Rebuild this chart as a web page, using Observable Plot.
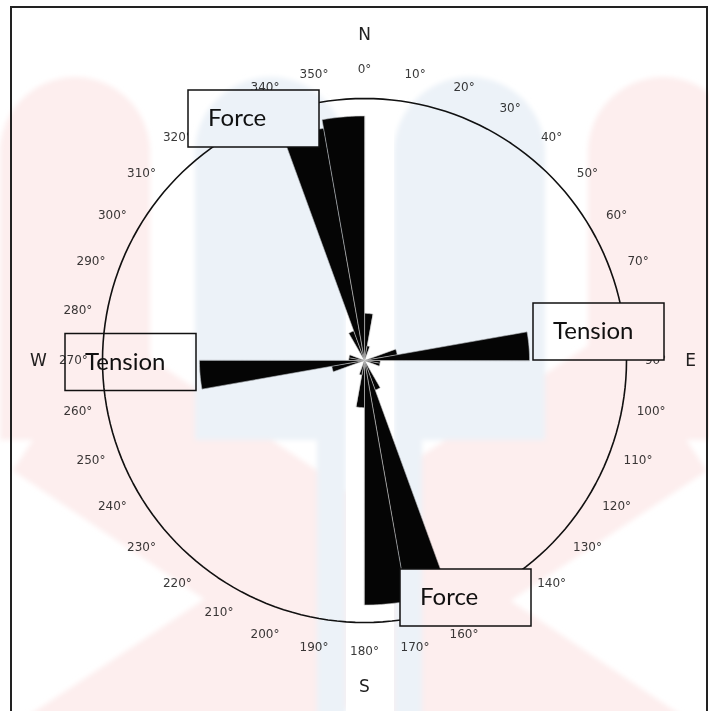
<!DOCTYPE html>
<html>
<head>
<meta charset="utf-8">
<script src="https://cdn.jsdelivr.net/npm/d3@7"></script>
<script src="https://cdn.jsdelivr.net/npm/@observablehq/plot@0.6"></script>
<style>
  body { margin: 0; background: #fff; }
  #wrap { position: relative; width: 709px; height: 711px; overflow: hidden; background: #fff; }
  #wrap > svg, #wrap > div { position: absolute; left: 0; top: 0; }
  #frame { box-sizing: border-box; left: 10px !important; top: 6px !important; width: 698px; height: 720px;
           border-left: 2px solid #222; border-top: 2px solid #222; border-right: 2px solid #222; }
</style>
</head>
<body>
<div id="wrap"></div>
<script>
// ---- data: rose diagram, 10° bins (start angle, clockwise from North) ----
const binStarts = [0,10,20,30,40,50,60,70,80,90,100,110,120,130,140,150,160,170,
                   180,190,200,210,220,230,240,250,260,270,280,290,300,310,320,330,340,350];
const binValues = [5.4,1.7,0,0,0,0,0,3.8,18.9,1.8,1.8,0,0,0,0,3.6,27,28,
                   5.4,1.7,0,0,0,0,0,3.8,18.9,1.8,1.8,0,0,0,0,3.6,27,28];
const outerRing = 30;                     // value at the outer circle
const tickAngles = binStarts;             // degree labels every 10°
const tickLabels = binStarts.map(d => d + "°");
const compassAngles = [0, 90, 180, 270];
const compassLabels = ["N", "E", "S", "W"];
const noteLabels = ["Force", "Tension", "Tension", "Force"];

const rad = d => d * Math.PI / 180;
const petals = [];
binStarts.forEach((a, i) => {
  const v = binValues[i];
  if (!v) return;
  petals.push({bin: i, x: 0, y: 0});
  for (let t = a; t <= a + 10; t += 1) petals.push({bin: i, x: v * Math.sin(rad(t)), y: v * Math.cos(rad(t))});
});
const ring = d3.range(0, 360, 2).map(t => ({x: outerRing * Math.sin(rad(t)), y: outerRing * Math.cos(rad(t))}));
const tickR = outerRing * 1.111, compassR = outerRing * 1.245;
const ticks = tickAngles.map((a, i) => ({x: tickR * Math.sin(rad(a)), y: tickR * Math.cos(rad(a)), t: tickLabels[i]}));
const compass = compassAngles.map((a, i) => ({x: compassR * Math.sin(rad(a)), y: compassR * Math.cos(rad(a)), t: compassLabels[i]}));

const cx = 364, cy = 360, pr = 262;
const chart = Plot.plot({
  width: 709, height: 711, margin: 0,
  x: {domain: [-outerRing, outerRing], range: [cx - pr, cx + pr], axis: null},
  y: {domain: [-outerRing, outerRing], range: [cy + pr, cy - pr], axis: null},
  style: {background: "transparent", overflow: "visible"},
  marks: [
    Plot.line(petals, {x: "x", y: "y", z: "bin", fill: "#050505", stroke: "#c9c9c9", strokeWidth: 0.6,
                       strokeLinejoin: "miter", curve: "linear-closed"}),
    Plot.line(ring, {x: "x", y: "y", stroke: "#111", strokeWidth: 1.6, curve: "linear-closed"}),
    Plot.text(ticks, {x: "x", y: "y", text: "t", fontSize: 12, fill: "#3a3a3a", fontFamily: "DejaVu Sans"}),
    Plot.text(compass, {x: "x", y: "y", text: "t", fontSize: 17, fill: "#222", fontFamily: "DejaVu Sans"})
  ]
});
const wrap = document.getElementById("wrap");
wrap.appendChild(chart);

// ---- annotation boxes ----
const ns = "http://www.w3.org/2000/svg";
const ann = document.createElementNS(ns, "svg");
ann.setAttribute("width", 709); ann.setAttribute("height", 711);
const boxes = [
  {x: 188, y: 90, fill: "#fff"},
  {x: 533, y: 303, fill: "#fff"},
  {x: 65, y: 333.5, fill: "none"},
  {x: 400, y: 569, fill: "#fff"}
];
boxes.forEach((b, i) => {
  const r = document.createElementNS(ns, "rect");
  r.setAttribute("x", b.x); r.setAttribute("y", b.y);
  r.setAttribute("width", 131); r.setAttribute("height", 57);
  r.setAttribute("fill", b.fill); r.setAttribute("stroke", "#111"); r.setAttribute("stroke-width", 1.5);
  ann.appendChild(r);
  const t = document.createElementNS(ns, "text");
  t.setAttribute("x", b.x + 20); t.setAttribute("y", b.y + 36);
  t.setAttribute("font-family", "Lato, 'Open Sans', sans-serif");
  t.setAttribute("font-size", 24); t.setAttribute("fill", "#111");
  t.textContent = noteLabels[i];
  ann.appendChild(t);
});
wrap.appendChild(ann);

// ---- faint background watermark (overlay) ----
const wm = document.createElementNS(ns, "svg");
wm.setAttribute("width", 709); wm.setAttribute("height", 711);
wm.style.mixBlendMode = "multiply";
wm.style.pointerEvents = "none";
const pink = "#fdeeee", blue = "#ecf2f8";
const pill = (x0, x1, y1) => { const r = (x1 - x0) / 2, c = 77 + r;
  return `M${x0},${y1} L${x0},${c} A${r},${r} 0 0 1 ${x1},${c} L${x1},${y1} Z`; };
wm.innerHTML = `
<defs>
  <filter id="soft"><feGaussianBlur stdDeviation="2.5"/></filter>
  <clipPath id="clipc"><rect x="0" y="0" width="346" height="711"/><rect x="394" y="0" width="315" height="711"/></clipPath>
</defs>
<g clip-path="url(#clipc)" filter="url(#soft)">
  <path d="${pill(0,150,440)}" fill="${pink}"/>
  <path d="${pill(588,738,440)}" fill="${pink}"/>
  <line x1="60" y1="400" x2="640" y2="790" stroke="${pink}" stroke-width="170"/>
  <line x1="660" y1="400" x2="70" y2="790" stroke="${pink}" stroke-width="170"/>
  <path d="${pill(195,346,440)}" fill="${blue}"/>
  <path d="${pill(394,545,440)}" fill="${blue}"/>
  <rect x="317" y="430" width="29" height="290" fill="${blue}"/>
  <rect x="394" y="430" width="28" height="290" fill="${blue}"/>
</g>`;
wrap.appendChild(wm);

const frame = document.createElement("div");
frame.id = "frame";
wrap.appendChild(frame);
</script>
</body>
</html>
